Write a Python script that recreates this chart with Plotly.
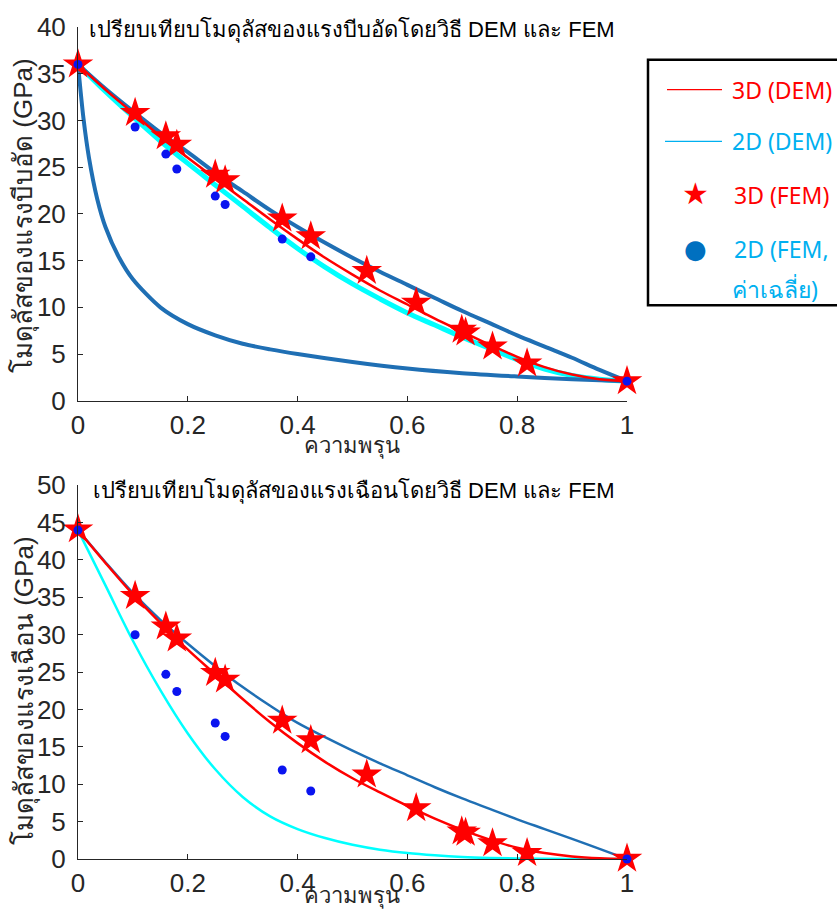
import plotly.graph_objects as go

# ---------------- data ----------------
porosity_grid = [0, 0.05, 0.1, 0.15, 0.2, 0.25, 0.3, 0.35, 0.4, 0.45, 0.5,
                 0.55, 0.6, 0.65, 0.7, 0.75, 0.8, 0.85, 0.9, 0.95, 1.0]

# compressive (bulk) modulus, GPa
comp_3d_dem = [36, 33.3, 30.8, 28.3, 26.0, 23.8, 21.6, 19.4, 17.3, 15.3, 13.5,
               11.8, 10.3, 8.8, 7.4, 6.0, 4.7, 3.6, 2.8, 2.3, 2.1]
comp_2d_dem = [36, 33.1, 30.4, 27.8, 25.4, 23.1, 20.8, 18.5, 16.3, 14.3, 12.5,
               10.9, 9.4, 8.1, 6.8, 5.6, 4.4, 3.4, 2.7, 2.3, 2.1]
comp_upper = [36, 33.4, 31.0, 28.7, 26.6, 24.4, 22.4, 20.4, 18.6, 16.9, 15.3,
              13.8, 12.4, 11.0, 9.6, 8.3, 7.0, 5.8, 4.6, 3.3, 2.1]
lower_grid = [0, 0.01, 0.02, 0.035, 0.05, 0.075, 0.1, 0.15, 0.2, 0.25, 0.3,
              0.35, 0.4, 0.5, 0.6, 0.7, 0.8, 0.9, 1.0]
comp_lower = [36, 30.2, 26.0, 21.6, 18.6, 15.3, 13.0, 10.0, 8.2, 7.0, 6.1,
              5.5, 5.0, 4.15, 3.45, 2.95, 2.6, 2.3, 2.1]

# shear modulus, GPa
shear_3d_dem = [44, 39.6, 35.4, 31.6, 28.0, 24.7, 21.4, 18.3, 15.5, 13.0, 10.8,
                8.9, 7.1, 5.4, 3.9, 2.6, 1.5, 0.8, 0.35, 0.1, 0]
shear_2d_dem = [44, 36.6, 29.2, 22.6, 16.8, 12.0, 8.3, 5.7, 4.0, 2.8, 1.9,
                1.25, 0.8, 0.5, 0.28, 0.15, 0.07, 0.03, 0.01, 0, 0]
shear_upper = [44, 39.7, 35.6, 32.0, 28.8, 25.8, 23.0, 20.5, 18.2, 16.3, 14.5,
               12.8, 11.2, 9.6, 8.1, 6.7, 5.3, 4.0, 2.7, 1.35, 0]

# FEM results
fem3d_x = [0, 0.104, 0.16, 0.18, 0.25, 0.268, 0.372, 0.424, 0.526, 0.616,
           0.699, 0.706, 0.755, 0.818, 1.0]
fem3d_comp = [36.0, 30.8, 28.3, 27.4, 24.2, 23.6, 19.5, 17.6, 13.9, 10.5,
              7.6, 7.3, 5.8, 4.0, 2.1]
fem3d_shear = [44.1, 35.2, 31.1, 29.5, 24.9, 24.0, 18.5, 15.9, 11.3, 6.8,
               3.7, 3.5, 2.1, 0.8, 0.05]
fem2d_x = [0, 0.104, 0.16, 0.18, 0.25, 0.268, 0.372, 0.424, 1.0]
fem2d_comp = [36, 29.3, 26.4, 24.8, 21.9, 21.0, 17.3, 15.4, 2.1]
fem2d_shear = [44, 30.0, 24.7, 22.4, 18.2, 16.4, 11.9, 9.1, 0]

x_ticks = [0, 0.2, 0.4, 0.6, 0.8, 1]
x_tick_labels = ["0", "0.2", "0.4", "0.6", "0.8", "1"]

title_comp = "เปรียบเทียบโมดุลัสของแรงบีบอัดโดยวิธี DEM และ FEM"
title_shear = "เปรียบเทียบโมดุลัสของแรงเฉือนโดยวิธี DEM และ FEM"
ylabel_comp = "โมดุลัสของแรงบีบอัด (GPa)"
ylabel_shear = "โมดุลัสของแรงเฉือน (GPa)"
xlabel = "ความพรุน"
legend_labels = ["3D (DEM)", "2D (DEM)", "3D (FEM)", "2D (FEM,", "ค่าเฉลี่ย)"]

# ---------------- styling ----------------
W, H = 837, 910
L, Rm, T, B = 78, 837 - 627, 22, 51
RED = "#FF0000"
CYAN = "#00FFFF"
DBLUE = "#1F6FB4"
DOT = "#0A14F0"
LEG_BLUE = "#00B0F0"
LEG_DOT = "#0070C0"
AX = "#262626"
NUMFONT = "Liberation Sans Narrow, Liberation Sans, Arial, sans-serif"
TXTFONT = "Liberation Sans Narrow, Liberation Sans, sans-serif"
LEGFONT = "Noto Sans, Open Sans, sans-serif"


def pxx(p):
    return (p - L) / (W - L - Rm)


def pxy(p):
    return (H - B - p) / (H - T - B)


fig = go.Figure()


def add_panel(xa, ya, dem3, dem2, upper, lower, f3, f2, thick_cyan):
    fig.add_trace(go.Scatter(x=porosity_grid, y=dem2, mode="lines", xaxis=xa, yaxis=ya,
                             line=dict(color=CYAN, width=5 if thick_cyan else 2.5, shape="spline"),
                             showlegend=False))
    fig.add_trace(go.Scatter(x=porosity_grid, y=upper, mode="lines", xaxis=xa, yaxis=ya,
                             line=dict(color=DBLUE, width=4 if thick_cyan else 2.5, shape="spline"),
                             showlegend=False))
    if lower is not None:
        fig.add_trace(go.Scatter(x=lower_grid, y=lower, mode="lines", xaxis=xa, yaxis=ya,
                                 line=dict(color=DBLUE, width=4, shape="spline", smoothing=0.8),
                                 showlegend=False))
    fig.add_trace(go.Scatter(x=porosity_grid, y=dem3, mode="lines", xaxis=xa, yaxis=ya,
                             line=dict(color=RED, width=2.5, shape="spline"),
                             showlegend=False))
    fig.add_trace(go.Scatter(x=fem3d_x, y=f3, mode="markers", xaxis=xa, yaxis=ya,
                             marker=dict(symbol="star", size=23, color=RED, line=dict(width=0)),
                             showlegend=False, cliponaxis=False))
    fig.add_trace(go.Scatter(x=fem2d_x, y=f2, mode="markers", xaxis=xa, yaxis=ya,
                             marker=dict(symbol="circle", size=9, color=DOT, line=dict(width=0)),
                             showlegend=False, cliponaxis=False))


add_panel("x", "y", comp_3d_dem, comp_2d_dem, comp_upper, comp_lower,
          fem3d_comp, fem2d_comp, True)
add_panel("x2", "y2", shear_3d_dem, shear_2d_dem, shear_upper, None,
          fem3d_shear, fem2d_shear, False)

axis_common = dict(showline=True, linecolor=AX, linewidth=1, ticks="inside", ticklen=5,
                   tickcolor=AX, showgrid=False, zeroline=False, mirror=False,
                   tickfont=dict(family=NUMFONT, size=26, color=AX))

fig.update_layout(
    width=W, height=H,
    margin=dict(l=L, r=Rm, t=T, b=B, pad=0),
    paper_bgcolor="white", plot_bgcolor="white",
    showlegend=False,
    xaxis=dict(domain=[0, 1], anchor="y", range=[0, 1], tickvals=x_ticks,
               ticktext=x_tick_labels, ticklabelstandoff=1, **axis_common),
    yaxis=dict(domain=[pxy(398), 1], anchor="x", range=[0, 40], dtick=5,
               ticklabelstandoff=6, **axis_common),
    xaxis2=dict(domain=[0, 1], anchor="y2", range=[0, 1], tickvals=x_ticks,
                ticktext=x_tick_labels, ticklabelstandoff=1, **axis_common),
    yaxis2=dict(domain=[0, pxy(483)], anchor="x2", range=[0, 50], dtick=5,
                ticklabelstandoff=6, **axis_common),
)


def note(text, x, y, size, color, family=TXTFONT, angle=0, xanchor="center"):
    return dict(text=text, x=pxx(x), y=pxy(y), xref="paper", yref="paper",
                showarrow=False, textangle=angle, xanchor=xanchor, yanchor="middle",
                font=dict(family=family, size=size, color=color))


ann = [
    note(title_comp, 352, 25, 22, "black"),
    note(title_shear, 354, 489, 22, "black"),
    note(xlabel, 352, 444, 22, AX),
    note(xlabel, 352, 896, 22, AX),
    note(ylabel_comp, 24, 212, 26, AX, angle=-90),
    note(ylabel_shear, 24, 690, 26, AX, angle=-90),
]

# legend box (drawn manually to match the reference layout)
shapes = [
    dict(type="rect", xref="paper", yref="paper", x0=pxx(648), x1=pxx(860),
         y0=pxy(302), y1=pxy(55), line=dict(color="black", width=2.5)),
    dict(type="line", xref="paper", yref="paper", x0=pxx(667), x1=pxx(722),
         y0=pxy(85), y1=pxy(85), line=dict(color=RED, width=1.3)),
    dict(type="line", xref="paper", yref="paper", x0=pxx(665), x1=pxx(722),
         y0=pxy(137), y1=pxy(137), line=dict(color=LEG_BLUE, width=1.3)),
]
ann.append(note("★", 695, 190, 30, RED, family="DejaVu Sans"))
ann.append(note("●", 695, 245, 26, LEG_DOT, family="DejaVu Sans"))
leg_pos = [(730, 85, RED), (730, 137, LEG_BLUE), (732, 191, RED), (732, 245, LEG_BLUE),
           (730, 286, LEG_BLUE)]
for lab, (lx, ly, col) in zip(legend_labels, leg_pos):
    ann.append(note(lab, lx, ly, 23, col, family=LEGFONT, xanchor="left"))

fig.update_layout(annotations=ann, shapes=shapes)
fig.write_html("out.html")
